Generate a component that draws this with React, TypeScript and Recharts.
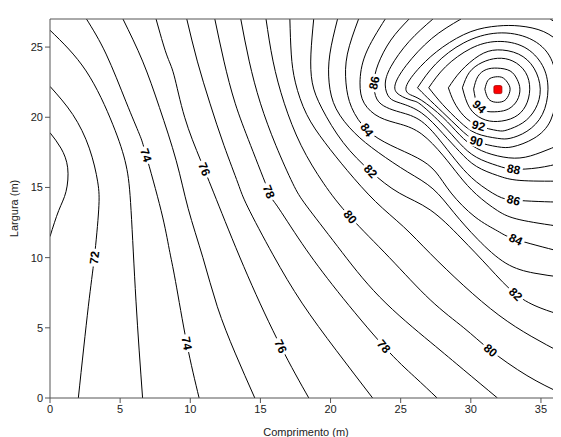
import React from 'react';
import { ComposedChart, Line, Scatter, XAxis, YAxis } from 'recharts';

type Pt = [number, number];

// contour traces (x = comprimento, y = largura)
const c71: Pt[] = [[0, 11.5], [0.62, 13.35], [1.14, 14.7], [1.26, 16.4], [0.78, 17.8], [0, 18.9]];
const c72: Pt[] = [[2.02, 0], [2.73, 6.5], [3.16, 10], [3.47, 13.4], [3.4, 15.4], [2.8, 17.8], [1.62, 20.2], [0, 22.2]];
const c73: Pt[] = [[6.6, 0], [6.13, 6.9], [5.78, 13.35], [5.42, 16.6], [4.47, 19.5], [2.57, 23.3], [0, 26.2]];
const c74: Pt[] = [[2.6, 27], [4.0, 24.5], [5.42, 21.1], [6.37, 18.8], [6.85, 17.3], [7.92, 13.35], [8.5, 10.6], [8.95, 8.3], [9.75, 3.9], [10.63, 0]];
const c75: Pt[] = [[5.2, 27], [6.6, 24.0], [7.8, 20.7], [9.0, 16.9], [9.85, 13.5], [10.9, 10], [11.93, 6.5], [13.2, 3.2], [14.6, 0]];
const c76: Pt[] = [[7.56, 27], [8.3, 24.5], [8.84, 23.0], [9.6, 20], [10.75, 16.9], [12.05, 13.67], [14.1, 8.7], [16.45, 3.68], [18.45, 0]];
const c77: Pt[] = [[9.75, 27], [10.5, 24], [11.4, 21], [12.4, 18], [13.4, 15.3], [14.1, 13.6], [15.9, 10.2], [17.97, 6.76], [20.4, 3.4], [23.0, 0]];
const c78: Pt[] = [[11.75, 27], [12.4, 24], [13.2, 21], [14.3, 18], [15.6, 14.7], [16.2, 13.67], [17.97, 11.0], [20.5, 7.6], [23.8, 3.68], [26, 1.5], [27.6, 0]];
const c79: Pt[] = [[13.6, 27], [14.2, 24], [15.0, 21], [16.1, 18], [17.3, 15.3], [18.3, 13.67], [20.5, 10.8], [23.5, 7.2], [27.1, 4.0], [29.5, 2.0], [31.9, 0]];
const c80: Pt[] = [[15.4, 27], [15.9, 24], [16.7, 21], [17.9, 18], [19.5, 15.3], [21.4, 12.9], [24.2, 10.0], [27.1, 7.0], [29.5, 5.0], [31.4, 3.4], [34, 1.6], [36.5, 0.3]];
const c81: Pt[] = [[17.1, 27], [17.2, 24.5], [17.5, 22.45], [18.3, 20.2], [19.6, 18.2], [21.2, 16.2], [23.2, 14.0], [25.2, 12.2], [27.1, 10.3], [29.5, 8.0], [32, 5.9], [34.3, 4.4], [36.5, 3.2]];
const c82: Pt[] = [[18.8, 27], [18.6, 24.5], [18.7, 22.45], [19.4, 20.6], [20.9, 18.2], [22.85, 16.15], [24.9, 14.6], [27.1, 13.4], [29.3, 11.4], [31.3, 9.3], [33.2, 7.4], [35, 6.4], [36.5, 5.9]];
const c83: Pt[] = [[20.5, 27], [19.95, 24.5], [19.9, 22.45], [20.4, 20.6], [21.7, 18.9], [23.4, 17.5], [25.5, 16.1], [27.3, 14.9], [28.8, 13.2], [30.5, 11.3], [32.5, 9.6], [34.5, 8.9], [36.5, 8.6]];
const c84: Pt[] = [[22.0, 27], [21.2, 24.5], [21.1, 22.45], [21.5, 20.7], [22.6, 19.1], [24.3, 18.0], [26.2, 17.1], [27.5, 16.1], [28.6, 14.6], [30.3, 12.9], [31.9, 11.9], [33.2, 11.3], [36.5, 10.4]];
const c85: Pt[] = [[23.9, 27], [22.5, 24.5], [22.1, 22.45], [22.4, 21.0], [23.5, 20.0], [25.0, 19.5], [26.5, 18.8], [28.0, 17.3], [29.2, 15.8], [30.4, 14.5], [31.9, 13.35], [33.5, 12.7], [36.5, 12.2]];
const c86: Pt[] = [[25.6, 27], [24.3, 25.5], [23.4, 23.8], [23.1, 22.45], [23.3, 21.3], [24.0, 20.7], [25.0, 20.35], [26.5, 19.7], [28.0, 18.1], [29.2, 16.6], [30.4, 15.4], [31.9, 14.4], [33.05, 14.1], [34.8, 14.0], [36.5, 13.95]];
const c87: Pt[] = [[27.3, 27], [25.6, 25.4], [24.3, 23.6], [23.9, 22.3], [24.2, 21.4], [25.0, 21.0], [26.5, 20.3], [28.0, 18.85], [29.2, 17.55], [30.4, 16.5], [31.9, 15.85], [33.5, 15.5], [36.5, 15.45]];
const c88: Pt[] = [[29.3, 27], [27.2, 25.6], [25.4, 23.7], [24.6, 22.3], [24.9, 21.6], [25.8, 21.2], [26.5, 20.85], [28.0, 19.45], [29.2, 18.15], [30.4, 17.15], [31.9, 16.55], [33.05, 16.3], [34.8, 16.4], [36.5, 16.75]];
const c88b: Pt[] = [[35.66, 27], [36.1, 26.7], [36.5, 26.3]];
const c89: Pt[] = [[36.5, 25.2], [35.2, 26.1], [33.5, 26.5], [31.9, 26.5], [30.0, 26.1], [28.0, 25.0], [26.4, 23.6], [25.4, 22.2], [25.7, 21.6], [26.5, 21.2], [28.0, 20.0], [29.2, 18.75], [30.4, 17.8], [31.9, 17.25], [33.5, 17.1], [35, 17.5], [36.5, 18.1]];
const c90: Pt[] = [[26.2, 22.1], [27.5, 23.8], [29.5, 25.3], [31.9, 26.0], [34.2, 25.6], [35.7, 24.2], [36.1, 22.0], [35.7, 19.8], [34.5, 18.5], [33.0, 17.9], [31.9, 17.9], [30.4, 18.3], [29.2, 19.2], [28.0, 20.35], [26.9, 21.4], [26.2, 22.1]];
const c91: Pt[] = [[27.0, 22.1], [28.2, 23.6], [30.0, 24.9], [31.9, 25.4], [33.8, 25.0], [35.1, 23.7], [35.5, 22.0], [35.1, 20.2], [34.0, 19.0], [32.8, 18.5], [31.9, 18.5], [30.4, 18.85], [29.2, 19.7], [28.0, 20.9], [27.0, 22.1]];
const c92: Pt[] = [[28.4, 22.1], [29.3, 23.3], [30.6, 24.4], [31.9, 24.8], [33.4, 24.5], [34.5, 23.5], [34.95, 22.0], [34.6, 20.6], [33.7, 19.6], [32.6, 19.1], [31.9, 19.05], [30.55, 19.4], [29.5, 20.1], [28.8, 21.1], [28.4, 22.1]];
const c93: Pt[] = [[29.4, 22.1], [29.9, 23.2], [30.8, 23.9], [31.9, 24.2], [33.0, 24.0], [33.9, 23.2], [34.2, 22.0], [33.9, 20.8], [33.1, 20.0], [31.9, 19.7], [30.8, 19.9], [29.9, 20.7], [29.4, 22.1]];
const c94: Pt[] = [[30.2, 22.0], [30.5, 22.9], [31.1, 23.4], [31.9, 23.5], [32.8, 23.3], [33.3, 22.7], [33.5, 22.0], [33.3, 21.2], [32.7, 20.6], [31.9, 20.4], [31.0, 20.45], [30.45, 20.95], [30.2, 22.0]];
const c95: Pt[] = [[31.0, 22.0], [31.2, 22.6], [31.6, 22.85], [32.2, 22.85], [32.6, 22.5], [32.8, 22.0], [32.6, 21.4], [32.2, 21.1], [31.6, 21.1], [31.2, 21.4], [31.0, 22.0]];

const contours: { level: number; pts: Pt[] }[] = [
  { level: 71, pts: c71 }, { level: 72, pts: c72 }, { level: 73, pts: c73 }, { level: 74, pts: c74 },
  { level: 75, pts: c75 }, { level: 76, pts: c76 }, { level: 77, pts: c77 }, { level: 78, pts: c78 },
  { level: 79, pts: c79 }, { level: 80, pts: c80 }, { level: 81, pts: c81 }, { level: 82, pts: c82 },
  { level: 83, pts: c83 }, { level: 84, pts: c84 }, { level: 85, pts: c85 }, { level: 86, pts: c86 },
  { level: 87, pts: c87 }, { level: 88, pts: c88 }, { level: 88, pts: c88b }, { level: 89, pts: c89 },
  { level: 90, pts: c90 }, { level: 91, pts: c91 }, { level: 92, pts: c92 }, { level: 93, pts: c93 },
  { level: 94, pts: c94 }, { level: 95, pts: c95 },
];

// contour labels
const labelLevels = [72, 74, 74, 76, 76, 78, 78, 80, 80, 82, 82, 84, 84, 86, 86, 88, 90, 92, 94];
const labelX = [3.16, 6.85, 9.75, 11.0, 16.45, 15.6, 23.8, 21.4, 31.4, 22.85, 33.2, 22.6, 33.2, 23.1, 33.05, 33.05, 30.4, 30.55, 30.6];
const labelY = [10.0, 17.3, 3.9, 16.3, 3.68, 14.7, 3.68, 12.9, 3.4, 16.15, 7.4, 19.1, 11.3, 22.45, 14.1, 16.3, 18.3, 19.4, 20.75];

// maximum
const peak = [{ x: 31.93, y: 21.97 }];

const xTicks = [0, 5, 10, 15, 20, 25, 30, 35];
const yTicks = [0, 5, 10, 15, 20, 25];
const X_MAX = 36.5;
const Y_MAX = 27;

const W = 554;
const H = 429;
const M = { top: 6, right: 0, bottom: 0, left: 0 };
const TOP_AXIS_H = 5;
const Y_AXIS_W = 42;
const X_AXIS_H = 39;
const plotW = W - M.left - M.right - Y_AXIS_W;
const plotH = H - M.top - TOP_AXIS_H - M.bottom - X_AXIS_H;
const sx = plotW / X_MAX;
const sy = plotH / Y_MAX;

const FONT = '"Liberation Sans", Arial, sans-serif';

// rotation of each label follows the local direction of its contour
const labelData = labelLevels.map((level, i) => {
  const x = labelX[i];
  const y = labelY[i];
  let best = Infinity;
  let angle = 0;
  contours
    .filter((c) => c.level === level)
    .forEach(({ pts }) => {
      for (let k = 0; k < pts.length - 1; k++) {
        const [x1, y1] = pts[k];
        const [x2, y2] = pts[k + 1];
        const dx = (x2 - x1) * sx;
        const dy = -(y2 - y1) * sy;
        const px = (x - x1) * sx;
        const py = -(y - y1) * sy;
        const len2 = dx * dx + dy * dy || 1;
        const t = Math.max(0, Math.min(1, (px * dx + py * dy) / len2));
        const d = Math.hypot(px - t * dx, py - t * dy);
        if (d < best) {
          best = d;
          angle = (Math.atan2(dy, dx) * 180) / Math.PI;
        }
      }
    });
  if (angle > 90) angle -= 180;
  if (angle <= -90) angle += 180;
  return { x, y, text: String(level), angle };
});

const ContourLabel = (props: any) => {
  const { cx, cy, payload } = props;
  if (cx == null || cy == null) return null;
  return (
    <g transform={`translate(${cx},${cy}) rotate(${payload.angle})`}>
      <rect x={-9} y={-6} width={18} height={12} fill="#fff" />
      <text
        x={0}
        y={0}
        dy="0.35em"
        textAnchor="middle"
        fontFamily={FONT}
        fontSize={12}
        fontWeight="bold"
        fill="#000"
      >
        {payload.text}
      </text>
    </g>
  );
};

const PeakMark = (props: any) => {
  const { cx, cy } = props;
  if (cx == null || cy == null) return null;
  return <rect x={cx - 4} y={cy - 4} width={8} height={8} rx={1.5} fill="#ff0000" stroke="#a00000" strokeWidth={0.8} />;
};

const tickStyle = { fontSize: 11, fill: '#222', fontFamily: FONT };

export default function App() {
  return (
    <div style={{ width: W, height: H }}>
      <ComposedChart width={W} height={H} margin={M}>
        <XAxis
          xAxisId="top"
          orientation="top"
          type="number"
          dataKey="x"
          domain={[0, X_MAX]}
          ticks={xTicks}
          tick={false}
          tickSize={5}
          height={TOP_AXIS_H}
          allowDataOverflow
          stroke="#555"
        />
        <XAxis
          type="number"
          dataKey="x"
          domain={[0, X_MAX]}
          ticks={xTicks}
          tick={tickStyle}
          tickSize={5}
          tickMargin={2}
          height={X_AXIS_H}
          allowDataOverflow
          stroke="#555"
          label={{ value: 'Comprimento (m)', position: 'insideBottom', offset: 1, style: { fontSize: 11, fill: '#222', fontFamily: FONT } }}
        />
        <YAxis
          type="number"
          dataKey="y"
          domain={[0, Y_MAX]}
          ticks={yTicks}
          tick={tickStyle}
          tickSize={5}
          tickMargin={2}
          width={Y_AXIS_W}
          allowDataOverflow
          stroke="#555"
          label={{ value: 'Largura (m)', angle: -90, position: 'insideLeft', offset: 6, style: { fontSize: 11, fill: '#222', fontFamily: FONT, textAnchor: 'middle' } }}
        />
        {contours.map((c, i) => (
          <Line
            key={i}
            data={c.pts.map(([x, y]) => ({ x, y }))}
            dataKey="y"
            type="natural"
            stroke="#000"
            strokeWidth={1}
            dot={false}
            activeDot={false}
            isAnimationActive={false}
          />
        ))}
        <Scatter data={labelData} dataKey="y" shape={ContourLabel} isAnimationActive={false} />
        <Scatter data={peak} dataKey="y" shape={PeakMark} isAnimationActive={false} />
      </ComposedChart>
    </div>
  );
}
